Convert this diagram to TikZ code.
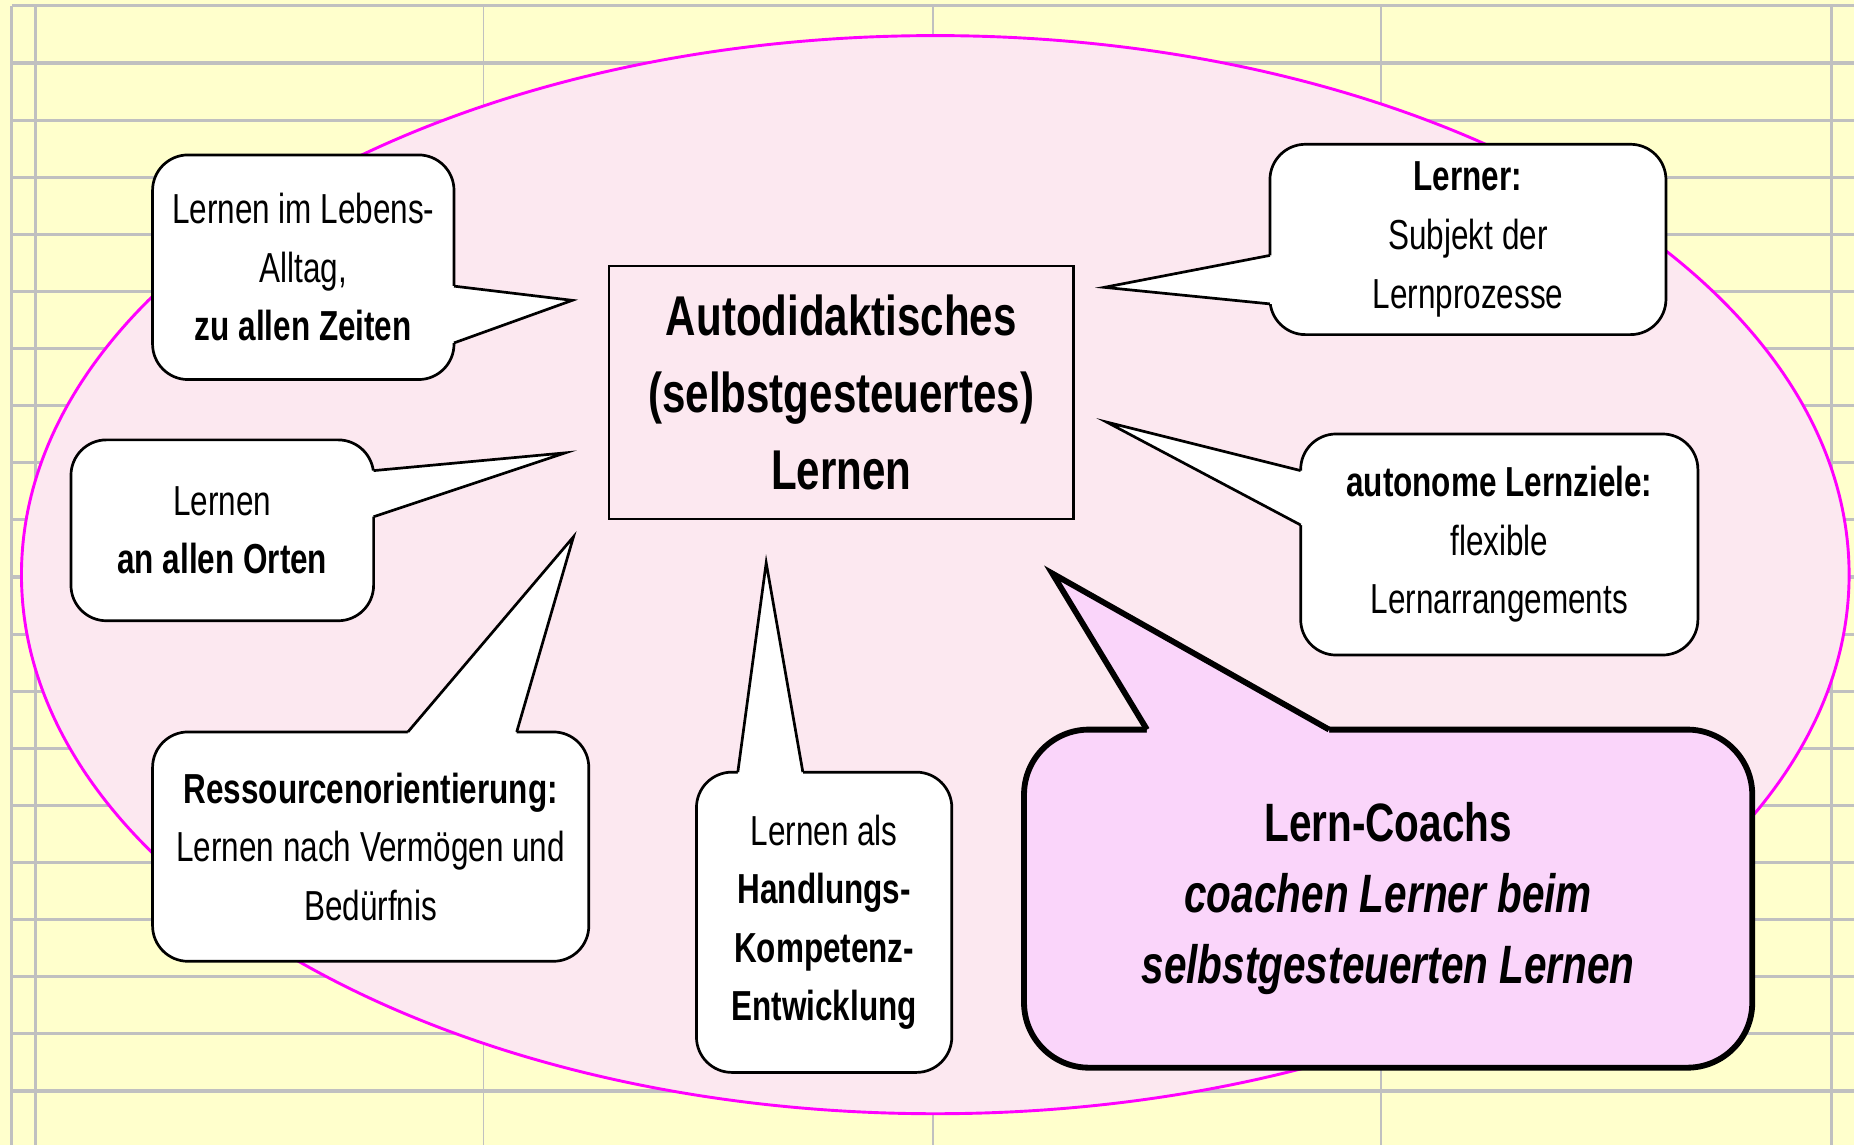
\documentclass[tikz,border=0pt]{standalone}
\usepackage{fontspec}
\setmainfont{Liberation Sans}[FakeStretch=0.75]
\usetikzlibrary{calc}

\definecolor{papier}{RGB}{255,255,204}
\definecolor{gitterfarbe}{RGB}{192,192,192}
\definecolor{rosa}{RGB}{252,232,240}
\definecolor{lila}{RGB}{250,213,250}
\definecolor{rand}{RGB}{255,0,255}

\tikzset{
  gitter/.style={draw=gitterfarbe, line width=1.5pt},
  gitterduenn/.style={draw=gitterfarbe, line width=0.7pt},
  blase/.style={draw, fill=white, line width=1.3pt, rounded corners=0.6cm,
    inner sep=0pt, outer sep=0pt, align=center,
    font=\fontsize{20.2}{28.2}\selectfont},
  zeiger/.style={draw, line width=1.3pt, miter limit=12},
  kasten/.style={draw, fill=rosa, line width=1.2pt, inner sep=0pt,
    align=center, font=\fontsize{27}{37}\selectfont\bfseries},
  coach/.style={draw, fill=lila, line width=2.8pt, rounded corners=1.1cm,
    inner sep=0pt, outer sep=0pt, align=center,
    font=\fontsize{26}{34}\selectfont\bfseries}
}

\begin{document}
\begin{tikzpicture}[x=0.02cm, y=-0.02cm]
\useasboundingbox (0,0) rectangle (1568,968);
\fill[papier] (0,0) rectangle (1568,968);

% Tabellengitter
\foreach \k in {0,...,19}
  \draw[gitter] (10,5+48.3*\k) -- (1568,5+48.3*\k);
\draw[gitter] (10,5) -- (10,968);
\draw[gitter] (30,5) -- (30,968);
\draw[gitterduenn] (409,5) -- (409,968);
\draw[gitterduenn] (789,5) -- (789,968);
\draw[gitterduenn] (1168,5) -- (1168,968);
\draw[gitter] (1549,5) -- (1549,968);

% Ellipse
\filldraw[fill=rosa, draw=rand, line width=1.4pt] (791,486) ellipse [x radius=15.46cm, y radius=9.12cm];

% Mitte
\node[kasten, minimum width=7.86cm, minimum height=4.28cm] (mitte) at (711.5,332)
  {Autodidaktisches\\(selbstgesteuertes)\\Lernen};

% Sprechblasen
\node[blase, minimum width=5.10cm, minimum height=3.80cm] (alltag) at (256.5,226)
  {Lernen im Lebens-\\Alltag,\\\textbf{zu allen Zeiten}};
\coordinate (alltag-spitze) at (484,254);
\fill[white] (380,242) -- (384,242) -- (alltag-spitze) -- (384,290) -- (380,290) -- cycle;
\draw[zeiger] (384,242) -- (alltag-spitze) -- (384,290);

\node[blase, minimum width=5.12cm, minimum height=3.06cm] (orte) at (188,448.5)
  {Lernen\\\textbf{an allen Orten}};
\coordinate (orte-spitze) at (478,383);
\fill[white] (312,398) -- (316,398) -- (orte-spitze) -- (316,437) -- (312,437) -- cycle;
\draw[zeiger] (316,398) -- (orte-spitze) -- (316,437);

\node[blase, minimum width=7.38cm, minimum height=3.88cm] (ressourcen) at (313.5,716)
  {\textbf{Ressourcenorientierung:}\\Lernen nach Vermögen und\\Bedürfnis};
\coordinate (ressourcen-spitze) at (485,454);
\fill[white] (345,623) -- (345,619) -- (ressourcen-spitze) -- (437,619) -- (437,623) -- cycle;
\draw[zeiger] (345,619) -- (ressourcen-spitze) -- (437,619);

\node[blase, minimum width=4.32cm, minimum height=5.08cm] (handlung) at (697,780)
  {Lernen als\\\textbf{Handlungs-}\\\textbf{Kompetenz-}\\\textbf{Entwicklung}};
\coordinate (handlung-spitze) at (648,476);
\fill[white] (624,657) -- (624,653) -- (handlung-spitze) -- (679,653) -- (679,657) -- cycle;
\draw[zeiger] (624,653) -- (handlung-spitze) -- (679,653);

\node[blase, minimum width=6.70cm, minimum height=3.22cm] (lerner) at (1241.5,202.5)
  {\textbf{Lerner:}\\Subjekt der\\Lernprozesse};
\coordinate (lerner-spitze) at (934,243);
\fill[white] (1078,216) -- (1074,216) -- (lerner-spitze) -- (1074,257) -- (1078,257) -- cycle;
\draw[zeiger] (1074,216) -- (lerner-spitze) -- (1074,257);

\node[blase, minimum width=6.72cm, minimum height=3.74cm] (ziele) at (1268,460.5)
  {\textbf{autonome Lernziele:}\\flexible\\Lernarrangements};
\coordinate (ziele-spitze) at (936,357);
\fill[white] (1104,398) -- (1100,398) -- (ziele-spitze) -- (1100,444) -- (1104,444) -- cycle;
\draw[zeiger] (1100,398) -- (ziele-spitze) -- (1100,444);

\node[coach, minimum width=12.32cm, minimum height=5.72cm] (coachs) at (1174,760)
  {Lern-Coachs\\\textit{coachen Lerner beim}\\\textit{selbstgesteuerten Lernen}};
\coordinate (coachs-spitze) at (890,485);
\fill[lila] (970,627) -- (970,617) -- (coachs-spitze) -- (1124,617) -- (1124,627) -- cycle;
\draw[zeiger, line width=2.8pt] (970,617) -- (coachs-spitze) -- (1124,617);
\end{tikzpicture}
\end{document}
